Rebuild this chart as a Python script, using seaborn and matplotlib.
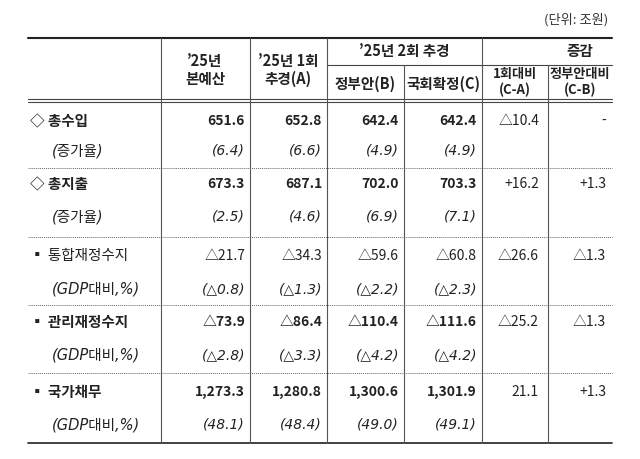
import matplotlib
matplotlib.use("Agg")
import matplotlib.pyplot as plt
import seaborn as sns

sns.set_theme(style="white")
plt.rcParams['font.family'] = ['Noto Sans CJK KR', 'DejaVu Sans']

# data
row_labels = ["◇ 총수입", "(증가율)", "◇ 총지출", "(증가율)", "▪ 통합재정수지", "(GDP대비,%)",
              "▪ 관리재정수지", "(GDP대비,%)", "▪ 국가채무", "(GDP대비,%)"]
bold_rows = [0, 2, 6, 8]
budget = ["651.6", "(6.4)", "673.3", "(2.5)", "△21.7", "(△0.8)", "△73.9", "(△2.8)", "1,273.3", "(48.1)"]
supp1 = ["652.8", "(6.6)", "687.1", "(4.6)", "△34.3", "(△1.3)", "△86.4", "(△3.3)", "1,280.8", "(48.4)"]
gov = ["642.4", "(4.9)", "702.0", "(6.9)", "△59.6", "(△2.2)", "△110.4", "(△4.2)", "1,300.6", "(49.0)"]
final = ["642.4", "(4.9)", "703.3", "(7.1)", "△60.8", "(△2.3)", "△111.6", "(△4.2)", "1,301.9", "(49.1)"]
diff_a = ["△10.4", "", "+16.2", "", "△26.6", "", "△25.2", "", "21.1", ""]
diff_b = ["-", "", "+1.3", "", "△1.3", "", "△1.3", "", "+1.3", ""]

fig = plt.figure(figsize=(6.4, 4.59), dpi=100)
ax = fig.add_axes([0, 0, 1, 1])
ax.set_xlim(0, 640)
ax.set_ylim(459, 0)
ax.axis("off")

xs = [28, 161, 250, 327, 404, 482, 548, 612]
row_y = [121, 151, 184, 217, 256, 289, 322, 355, 392, 425]
seps = [168, 237, 305, 373]
fs = 10
latin = ['DejaVu Sans', 'Noto Sans CJK KR']

ax.text(608, 20, "(단위: 조원)", ha="right", va="center", fontsize=9.5, color="#333")
# borders
ax.plot([xs[0], xs[-1]], [38, 38], color="#222", lw=1.5)
ax.plot([xs[3], xs[-1]], [65, 65], color="#444", lw=0.8)
ax.plot([xs[0], xs[-1]], [99, 99], color="#444", lw=0.8)
ax.plot([xs[0], xs[-1]], [102, 102], color="#444", lw=0.8)
ax.plot([xs[0], xs[-1]], [443, 443], color="#222", lw=1.2)
for x in xs[1:-1]:
    top = 65 if x in (404, 548) else 38
    ax.plot([x, x], [top, 443], color="#555", lw=0.8)
for y in seps:
    ax.plot([xs[0], xs[-1]], [y, y], color="#666", lw=0.7, ls=(0, (1, 1)))

# header
hdr = dict(ha="center", va="center", fontsize=10.5, fontweight="bold", color="#222")
ax.text(205, 70, "’25년\n본예산", linespacing=1.2, **hdr)
ax.text(288, 70, "’25년 1회\n추경(A)", linespacing=1.2, **hdr)
ax.text(404, 51, "’25년 2회 추경", **hdr)
ax.text(365, 84, "정부안(B)", **hdr)
ax.text(443, 84, "국회확정(C)", **hdr)
ax.text(580, 51, "증감", **hdr)
hdr["fontsize"] = 9.5
ax.text(515, 82, "1회대비\n(C-A)", linespacing=1.1, **hdr)
ax.text(580, 82, "정부안대비\n(C-B)", linespacing=1.1, **hdr)

cols = [budget, supp1, gov, final]
for i, y in enumerate(row_y):
    sub = i % 2 == 1
    bw = "bold" if i in bold_rows else "normal"
    st = "italic" if sub else "normal"
    fam = latin if sub else ['Noto Sans CJK KR', 'DejaVu Sans']
    lx = 52 if sub else 30
    ax.text(lx, y, row_labels[i], ha="left", va="center", fontsize=fs + 0.5,
            fontweight=bw, fontstyle=st, color="#222", family=fam)
    for j, col in enumerate(cols):
        ax.text(xs[j + 2] - 5, y, col[i], ha="right", va="center", fontsize=fs,
                fontweight=bw, fontstyle=st, color="#222", family=fam)
    ax.text(539, y, diff_a[i], ha="right", va="center", fontsize=fs, color="#222")
    ax.text(606, y, diff_b[i], ha="right", va="center", fontsize=fs, color="#222")

fig.savefig("out.png", dpi=100)
